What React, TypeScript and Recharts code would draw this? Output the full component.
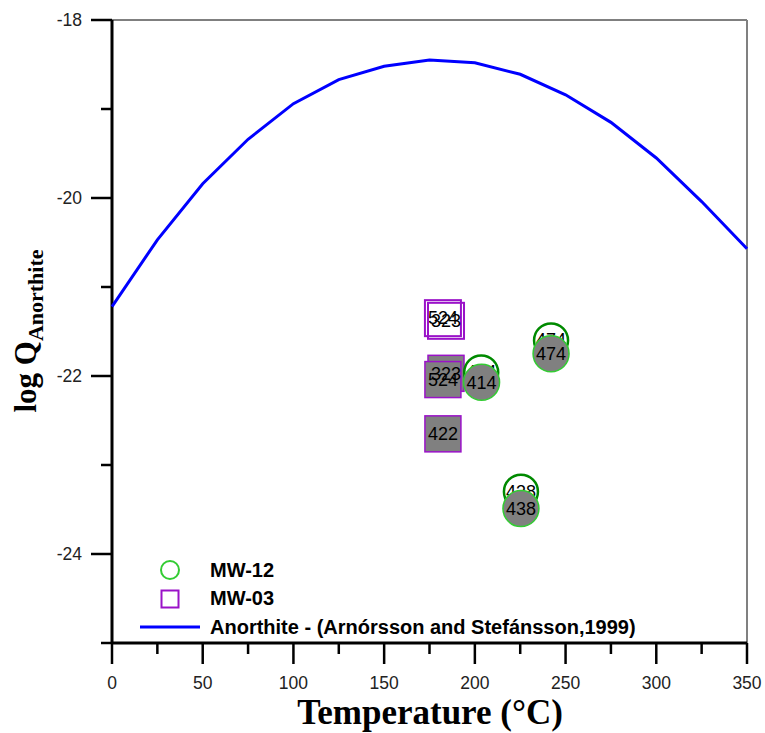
import {
  ScatterChart,
  Scatter,
  XAxis,
  YAxis,
  ReferenceLine,
  LabelList,
  Legend,
} from "recharts";

// Anorthite equilibrium curve (Arnórsson and Stefánsson, 1999)
const curveT = [0, 25, 50, 75, 100, 125, 150, 175, 200, 225, 250, 275, 300, 325, 350];
const curveLogQ = [
  -21.22, -20.47, -19.84, -19.34, -18.94, -18.67, -18.52, -18.45, -18.48, -18.61, -18.84, -19.15,
  -19.55, -20.04, -20.57,
];

// MW-12 samples (circles)
const mw12OpenT = [242.0, 203.5, 225.4];
const mw12OpenLogQ = [-21.6, -21.96, -23.3];
const mw12OpenLabels = ["474", "414", "438"];
const mw12FilledT = [242.0, 203.7, 225.4];
const mw12FilledLogQ = [-21.75, -22.07, -23.49];
const mw12FilledLabels = ["474", "414", "438"];

// MW-03 samples (squares)
const mw03OpenT = [182.4, 184.1];
const mw03OpenLogQ = [-21.35, -21.38];
const mw03OpenLabels = ["524", "323"];
const mw03FilledT = [184.1, 182.4, 182.4];
const mw03FilledLogQ = [-21.97, -22.04, -22.65];
const mw03FilledLabels = ["323", "524", "422"];

const xTicks = [0, 25, 50, 75, 100, 125, 150, 175, 200, 225, 250, 275, 300, 325, 350];
const yTicks = [-25, -24, -23, -22, -21, -20, -19, -18];

const toPoints = (t: number[], q: number[], labels?: string[]) =>
  t.map((v, i) => ({ t: v, logQ: q[i], label: labels ? labels[i] : "" }));

const curve = toPoints(curveT, curveLogQ);
const mw12Open = toPoints(mw12OpenT, mw12OpenLogQ, mw12OpenLabels);
const mw12Filled = toPoints(mw12FilledT, mw12FilledLogQ, mw12FilledLabels);
const mw03Open = toPoints(mw03OpenT, mw03OpenLogQ, mw03OpenLabels);
const mw03Filled = toPoints(mw03FilledT, mw03FilledLogQ, mw03FilledLabels);

const GREEN_DARK = "#008a00";
const GREEN = "#33cc33";
const PURPLE = "#9a12c8";
const GREY = "#808080";
const SANS = "'Liberation Sans', Arial, sans-serif";
const SERIF = "'Liberation Serif', 'Times New Roman', serif";

const MAJOR = 21;
const MINOR = 11;

function YTick({ x, y, payload }: any) {
  const major = payload.value % 2 === 0;
  return (
    <g>
      <line x1={x} x2={x - (major ? MAJOR : MINOR)} y1={y} y2={y} stroke="#000" strokeWidth={2.5} />
      {major && (
        <text x={x - 30} y={y} textAnchor="end" dominantBaseline="central" fontSize={17.5} fill="#222" fontFamily={SANS}>
          {payload.value}
        </text>
      )}
    </g>
  );
}

function XTick({ x, y, payload }: any) {
  const major = payload.value % 50 === 0;
  return (
    <g>
      <line x1={x} x2={x} y1={y} y2={y + (major ? MAJOR : MINOR)} stroke="#000" strokeWidth={2.5} />
      {major && (
        <text x={x} y={y + 40} textAnchor="middle" dominantBaseline="central" fontSize={17.5} fill="#222" fontFamily={SANS}>
          {payload.value}
        </text>
      )}
    </g>
  );
}

const markerText = (p: any) => (
  <text x={p.cx} y={p.cy} textAnchor="middle" dominantBaseline="central" fontSize={18} fill="#000" fontFamily={SANS}>
    {p.payload?.label ?? p.label}
  </text>
);

// open markers carry their own number so the filled markers drawn later cover it
const openCircle = (p: any) => (
  <g>
    <circle cx={p.cx} cy={p.cy} r={17} fill="none" stroke={GREEN_DARK} strokeWidth={2.5} />
    {markerText(p)}
  </g>
);
const openSquare = (p: any) => (
  <g>
    <rect x={p.cx - 18} y={p.cy - 18} width={36} height={36} fill="none" stroke={PURPLE} strokeWidth={2} />
    {markerText(p)}
  </g>
);
const filledCircle = (p: any) => <circle cx={p.cx} cy={p.cy} r={18} fill={GREY} stroke={GREEN} strokeWidth={1.5} />;
const filledSquare = (p: any) => (
  <rect x={p.cx - 18} y={p.cy - 18} width={36} height={36} fill={GREY} stroke={PURPLE} strokeWidth={1.5} />
);
const noDot = () => <g />;

function LegendBox() {
  const row = { display: "flex", alignItems: "center", height: 28.5 } as const;
  const txt = { marginLeft: 5, fontFamily: SANS, fontWeight: 700, fontSize: 20, color: "#000" } as const;
  return (
    <div>
      <div style={row}>
        <svg width={70} height={28}>
          <circle cx={35} cy={14} r={9} fill="none" stroke={GREEN} strokeWidth={2} />
        </svg>
        <span style={txt}>MW-12</span>
      </div>
      <div style={row}>
        <svg width={70} height={28}>
          <rect x={26.5} y={5.5} width={17} height={17} fill="none" stroke={PURPLE} strokeWidth={2} />
        </svg>
        <span style={txt}>MW-03</span>
      </div>
      <div style={row}>
        <svg width={70} height={28}>
          <line x1={5} x2={65} y1={14} y2={14} stroke="#0000ff" strokeWidth={3} />
        </svg>
        <span style={txt}>Anorthite - (Arnórsson and Stefánsson,1999)</span>
      </div>
    </div>
  );
}

export default function App() {
  return (
    <div style={{ position: "absolute", left: 0, top: 0, width: 765, height: 733, background: "#fff" }}>
      <ScatterChart width={765} height={733} margin={{ top: 20, right: 18, bottom: 0, left: 0 }}>
        <XAxis
          type="number"
          dataKey="t"
          domain={[0, 350]}
          ticks={xTicks}
          interval={0}
          height={90}
          tickSize={0}
          tickMargin={0}
          tickLine={false}
          axisLine={{ stroke: "#000", strokeWidth: 3 }}
          tick={<XTick />}
          label={{
            content: () => (
              <text x={430} y={724} textAnchor="middle" fontFamily={SERIF} fontWeight={700} fontSize={35} fill="#000">
                Temperature (°C)
              </text>
            ),
          }}
        />
        <YAxis
          type="number"
          dataKey="logQ"
          domain={[-25, -18]}
          ticks={yTicks}
          interval={0}
          width={112}
          tickSize={0}
          tickMargin={0}
          tickLine={false}
          axisLine={{ stroke: "#000", strokeWidth: 3 }}
          tick={<YTick />}
          label={{
            content: () => (
              <text
                x={36}
                y={331}
                transform="rotate(-90, 36, 331)"
                textAnchor="middle"
                fontFamily={SERIF}
                fontWeight={700}
                fill="#000"
              >
                <tspan fontSize={31}>log Q</tspan>
                <tspan fontSize={22} dy={7}>
                  Anorthite
                </tspan>
              </text>
            ),
          }}
        />
        <ReferenceLine y={-18} stroke="#000" strokeWidth={1} />
        <ReferenceLine x={350} stroke={GREY} strokeWidth={2} />
        <Legend
          layout="vertical"
          align="center"
          verticalAlign="middle"
          content={<LegendBox />}
          wrapperStyle={{ left: 135, top: 556, width: 600 }}
        />
        <Scatter
          data={curve}
          line={{ stroke: "#0000ff", strokeWidth: 3 }}
          shape={noDot}
          isAnimationActive={false}
        />
        <Scatter data={mw03Open} shape={openSquare} isAnimationActive={false} />
        <Scatter data={mw03Filled} shape={filledSquare} isAnimationActive={false}>
          <LabelList dataKey="label" position="center" fill="#000" fontSize={18} fontFamily={SANS} />
        </Scatter>
        <Scatter data={mw12Open} shape={openCircle} isAnimationActive={false} />
        <Scatter data={mw12Filled} shape={filledCircle} isAnimationActive={false}>
          <LabelList dataKey="label" position="center" fill="#000" fontSize={18} fontFamily={SANS} />
        </Scatter>
      </ScatterChart>
    </div>
  );
}
